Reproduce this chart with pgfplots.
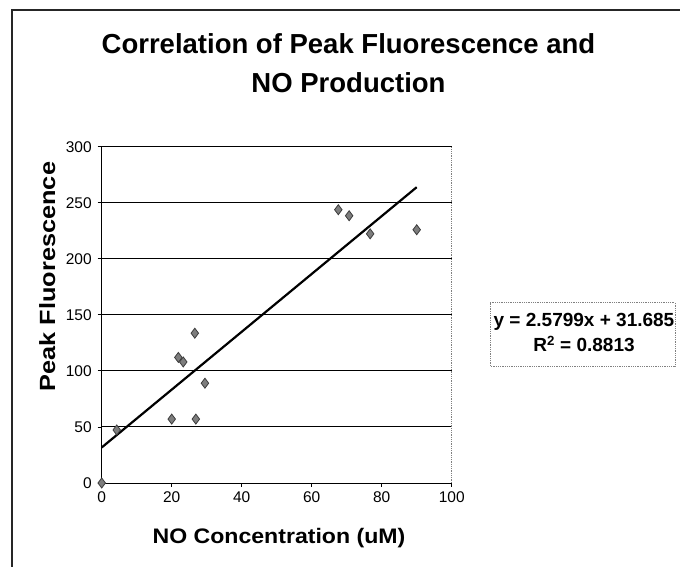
\documentclass[border=0pt]{standalone}
\usepackage{fontspec}
\setmainfont{Liberation Sans}
\usepackage{pgfplots}
\pgfplotsset{compat=1.18}
\usepackage{graphicx}
\definecolor{markfill}{RGB}{125,125,125}
\definecolor{markedge}{RGB}{60,60,60}
\begin{document}
\begin{tikzpicture}[x=1pt,y=1pt]
\useasboundingbox (0,0) rectangle (680,567);
\draw[line width=1.3pt, black!85] (12,0) -- (12,557) -- (680,557);
\node[anchor=base, inner sep=0pt, font=\fontsize{27.5}{33}\selectfont\bfseries] at (348.5,513) {Correlation of Peak Fluorescence and};
\node[anchor=base, inner sep=0pt, font=\fontsize{27.5}{33}\selectfont\bfseries] at (348.5,474) {NO Production};
\node[anchor=base, inner sep=0pt, font=\fontsize{21}{25}\selectfont\bfseries] at (279,23) {\scalebox{1.1}[1]{NO Concentration (uM)}};
\node[anchor=base, rotate=90, inner sep=0pt, font=\fontsize{22}{26}\selectfont\bfseries] at (55,290.5) {\scalebox{1.15}[1]{Peak Fluorescence}};
\begin{axis}[
  at={(101.7pt,84pt)}, anchor=south west,
  scale only axis, width=350pt, height=336.3pt,
  xmin=0, xmax=100, ymin=0, ymax=300,
  xtick={0,20,...,100}, ytick={0,50,...,300},
  axis lines*=left,
  axis line style={black, line width=0.9pt},
  tick align=outside, major tick length=4pt,
  tick style={black, line width=0.8pt},
  ymajorgrids, grid style={black, line width=0.9pt},
  ticklabel style={font=\fontsize{15.5}{18}\selectfont},
  /pgf/number format/assume math mode=true,
  yticklabel style={xshift=-2.5pt},
  xticklabel style={yshift=-1pt},
  clip=false,
]
\draw[gray, densely dotted, line width=0.8pt] (rel axis cs:1,0) -- (rel axis cs:1,1);
\addplot[black, line width=2.2pt, no marks] coordinates {(0,31.685) (90,263.876)};
\addplot[only marks, mark=diamond*, mark size=5pt, mark options={fill=markfill, draw=markedge, line width=0.8pt}] coordinates {
(0,0) (4.3,47.3) (20,57) (26.9,57) (21.9,112) (23.3,108) (26.6,133.6) (29.5,89) (67.6,243.8) (70.7,238.4) (76.7,222.3) (90,225.9)
};
\end{axis}
\draw[gray, densely dotted, line width=0.8pt] (490,201) rectangle (675,264.3);
\node[anchor=base, inner sep=0pt, font=\fontsize{19}{23}\selectfont\bfseries] at (584,240) {y = 2.5799x + 31.685};
\node[anchor=base, inner sep=0pt, font=\fontsize{19}{23}\selectfont\bfseries] at (584,215) {R\textsuperscript{2} = 0.8813};
\end{tikzpicture}
\end{document}
